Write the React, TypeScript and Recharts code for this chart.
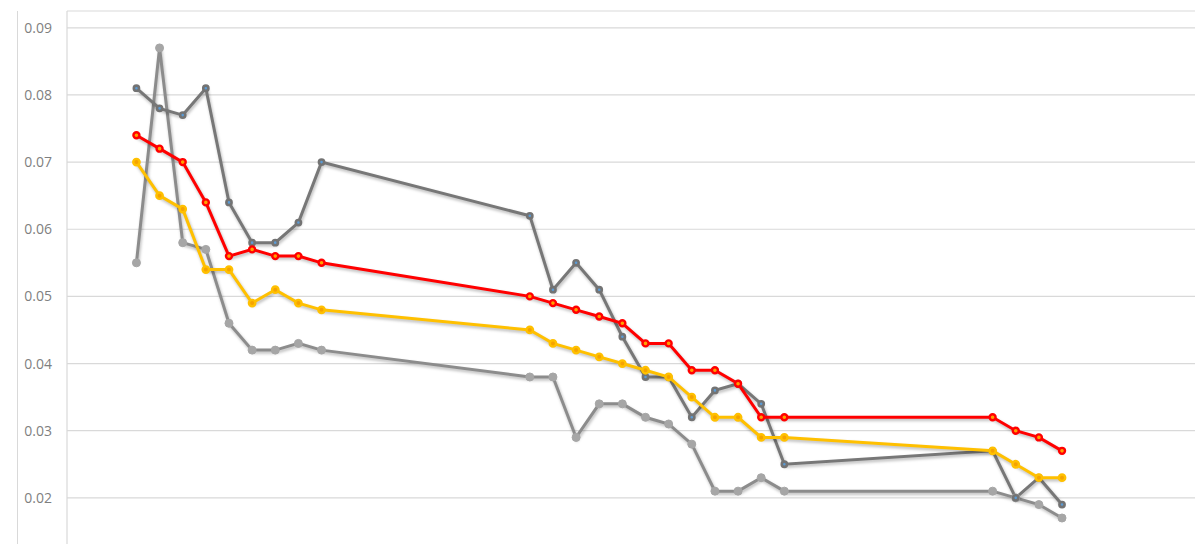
import React from 'react';
import { LineChart, Line, XAxis, YAxis, CartesianGrid } from 'recharts';

const xValues = [3, 4, 5, 6, 7, 8, 9, 10, 11, 20, 21, 22, 23, 24, 25, 26, 27, 28, 29, 30, 31, 40, 41, 42, 43];

const lowerSeries = [0.055, 0.087, 0.058, 0.057, 0.046, 0.042, 0.042, 0.043, 0.042, 0.038, 0.038, 0.029, 0.034, 0.034, 0.032, 0.031, 0.028, 0.021, 0.021, 0.023, 0.021, 0.021, 0.020, 0.019, 0.017];
const upperSeries = [0.081, 0.078, 0.077, 0.081, 0.064, 0.058, 0.058, 0.061, 0.070, 0.062, 0.051, 0.055, 0.051, 0.044, 0.038, 0.038, 0.032, 0.036, 0.037, 0.034, 0.025, 0.027, 0.020, 0.023, 0.019];
const yellowSeries = [0.070, 0.065, 0.063, 0.054, 0.054, 0.049, 0.051, 0.049, 0.048, 0.045, 0.043, 0.042, 0.041, 0.040, 0.039, 0.038, 0.035, 0.032, 0.032, 0.029, 0.029, 0.027, 0.025, 0.023, 0.023];
const redSeries = [0.074, 0.072, 0.070, 0.064, 0.056, 0.057, 0.056, 0.056, 0.055, 0.050, 0.049, 0.048, 0.047, 0.046, 0.043, 0.043, 0.039, 0.039, 0.037, 0.032, 0.032, 0.032, 0.030, 0.029, 0.027];

const yTicks = [0.02, 0.03, 0.04, 0.05, 0.06, 0.07, 0.08, 0.09];
const xTicks = [0, 10, 20, 30, 40, 50];

const data = xValues.map((x, i) => ({
  x,
  lower: lowerSeries[i],
  upper: upperSeries[i],
  yellow: yellowSeries[i],
  red: redSeries[i],
}));

export default function App() {
  return (
    <div
      style={{
        position: 'absolute',
        left: 0,
        top: 0,
        width: 1195,
        height: 544,
        overflow: 'hidden',
        background: '#ffffff',
      }}
    >
      <style>{`.recharts-line path.recharts-curve{filter:drop-shadow(1px 2px 1.5px rgba(0,0,0,0.28));}`}</style>
      <div
        style={{
          position: 'absolute',
          left: 17,
          top: 11,
          width: 1,
          height: 540,
          background: '#d9d9d9',
        }}
      />
      <div
        style={{
          position: 'absolute',
          left: 226,
          top: -37,
          fontFamily: '"Open Sans", sans-serif',
          fontSize: 30,
          fontWeight: 600,
          lineHeight: '30px',
          color: '#000',
        }}
      >
        g
      </div>
      <LineChart
        width={1240}
        height={600}
        data={data}
        margin={{ top: 11, right: 16, bottom: 34, left: 0 }}
      >
        <CartesianGrid stroke="#d9d9d9" strokeWidth={1.2} />
        <XAxis
          dataKey="x"
          type="number"
          domain={[0, 50]}
          ticks={xTicks}
          tick={false}
          axisLine={false}
          tickLine={false}
          height={1}
        />
        <YAxis
          type="number"
          domain={[0.01, 0.0925]}
          ticks={yTicks}
          allowDataOverflow
          width={67}
          axisLine={false}
          tickLine={false}
          tickSize={0}
          tickMargin={15}
          tick={{ fill: '#7f7f7f', fontSize: 14, fontFamily: '"Open Sans", sans-serif' }}
          tickFormatter={(v: number) => v.toFixed(2)}
        />
        <Line
          dataKey="lower"
          stroke="#8c8c8c"
          strokeWidth={3}
          dot={{ r: 4, fill: '#a6a6a6', stroke: '#a6a6a6', strokeWidth: 1 }}
          isAnimationActive={false}
        />
        <Line
          dataKey="upper"
          stroke="#777777"
          strokeWidth={3}
          dot={{ r: 2.6, fill: '#5b9bd5', stroke: '#737373', strokeWidth: 2.6 }}
          isAnimationActive={false}
        />
        <Line
          dataKey="yellow"
          stroke="#ffc000"
          strokeWidth={3}
          dot={{ r: 3.2, fill: '#f5a300', stroke: '#ffc000', strokeWidth: 2.4 }}
          isAnimationActive={false}
        />
        <Line
          dataKey="red"
          stroke="#ff0000"
          strokeWidth={3}
          dot={{ r: 3, fill: '#ffa000', stroke: '#ff0000', strokeWidth: 2.4 }}
          isAnimationActive={false}
        />
      </LineChart>
    </div>
  );
}
